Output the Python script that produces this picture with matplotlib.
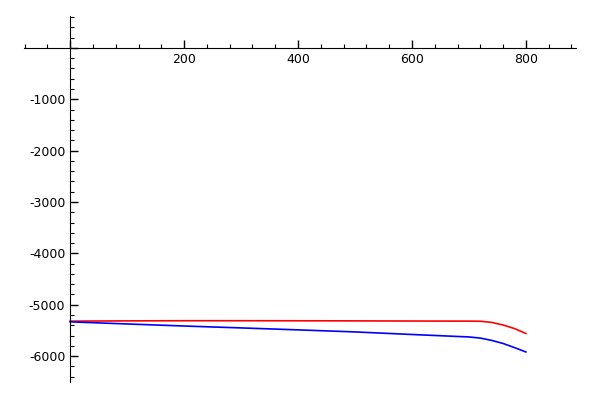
import numpy as np
import matplotlib
matplotlib.use('Agg')
import matplotlib.pyplot as plt
from matplotlib.ticker import MultipleLocator, FuncFormatter

# values
x_vals = [0, 100, 200, 300, 400, 500, 600, 700, 720, 740, 760, 780, 800]
red_vals = [-5320, -5315, -5312, -5312, -5313, -5315, -5318, -5320, -5322, -5345, -5395, -5465, -5560]
blue_vals = [-5334, -5375, -5415, -5452, -5490, -5530, -5580, -5628, -5650, -5695, -5755, -5835, -5920]

fig = plt.figure(figsize=(6, 4), dpi=100)
ax = fig.add_axes([0.04, 0.045, 0.92, 0.915])

ax.plot(x_vals, red_vals, color='red', linewidth=1.2)
ax.plot(x_vals, blue_vals, color='blue', linewidth=1.2)

ax.set_xlim(-81, 888)
ax.set_ylim(-6505, 621)

# sage-style axes through the origin
for side in ['top', 'right']:
    ax.spines[side].set_visible(False)
ax.spines['left'].set_position(('data', 0))
ax.spines['bottom'].set_position(('data', 0))

ax.xaxis.set_major_locator(MultipleLocator(200))
ax.xaxis.set_minor_locator(MultipleLocator(40))
ax.yaxis.set_major_locator(MultipleLocator(1000))
ax.yaxis.set_minor_locator(MultipleLocator(200))

hide_zero = FuncFormatter(lambda v, p: '' if abs(v) < 1e-9 else '%d' % v)
ax.xaxis.set_major_formatter(hide_zero)
ax.yaxis.set_major_formatter(hide_zero)

ax.tick_params(which='major', direction='in', length=6, width=1, labelsize=9)
ax.tick_params(which='minor', direction='in', length=3, width=0.8)

plt.savefig('out.png', dpi=100)
